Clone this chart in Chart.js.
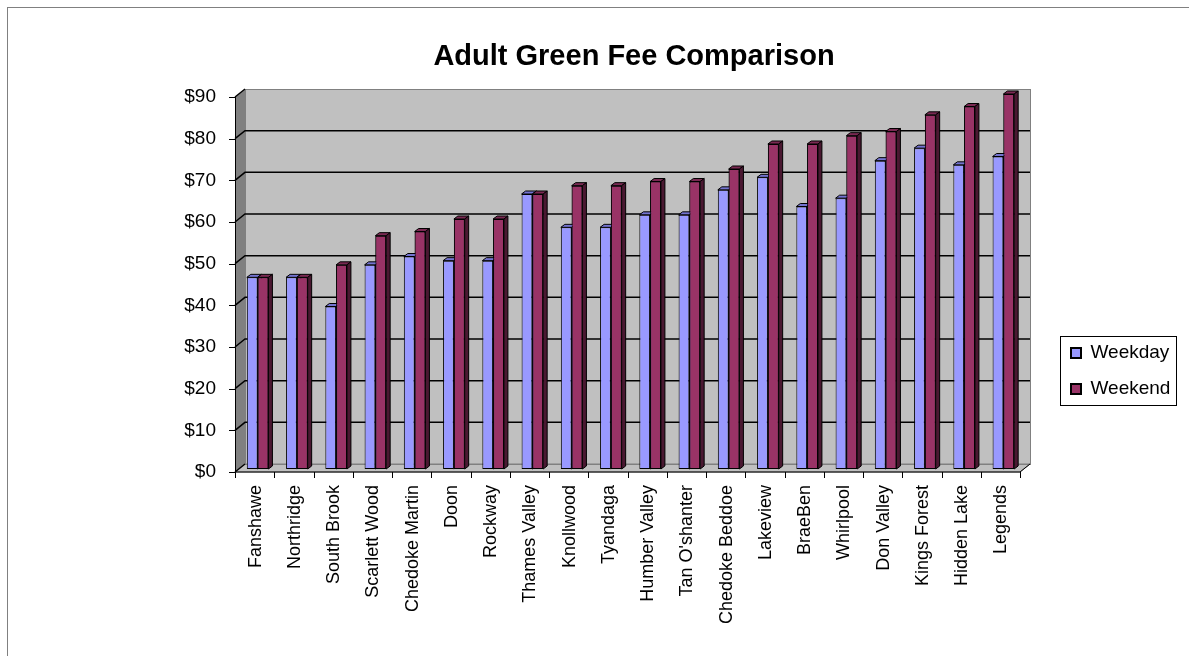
<!DOCTYPE html>
<html lang="en">
<head>
<meta charset="UTF-8">
<title>Adult Green Fee Comparison</title>
<script src="https://cdn.jsdelivr.net/npm/chart.js"></script>
<style>
  body { margin: 0; background: #fff; }
</style>
</head>
<body>
<canvas id="grafico" width="1189" height="656"></canvas>
<script>
// data
const courses = ["Fanshawe", "Northridge", "South Brook", "Scarlett Wood", "Chedoke Martin", "Doon",
  "Rockway", "Thames Valley", "Knollwood", "Tyandaga", "Humber Valley", "Tan O'shanter",
  "Chedoke Beddoe", "Lakeview", "BraeBen", "Whirlpool", "Don Valley", "Kings Forest",
  "Hidden Lake", "Legends"]
const weekday = [46, 46, 39, 49, 51, 50, 50, 66, 58, 58, 61, 61, 67, 70, 63, 65, 74, 77, 73, 75]
const weekend = [46, 46, 49, 56, 57, 60, 60, 66, 68, 68, 69, 69, 72, 78, 78, 80, 81, 85, 87, 90]
const yTicks = [0, 10, 20, 30, 40, 50, 60, 70, 80, 90]
const yTickLabels = ["$0", "$10", "$20", "$30", "$40", "$50", "$60", "$70", "$80", "$90"]

const FONT = "'Liberation Sans', Arial, sans-serif"

// fake 3D: the bars sit on a middle plane, walls behind, axes in front
const FRONT = { dx: -3, dy: 3 }
const BACK = { dx: 7, dy: -5 }
const DEPTH = { dx: 4, dy: -3 }
const faces = [
  { top: '#7373d0', side: '#4d4d85' },
  { top: '#7a2952', side: '#4a1831' }
]

function poly(ctx, pts, fill, stroke) {
  ctx.beginPath()
  ctx.moveTo(pts[0][0], pts[0][1])
  for (let i = 1; i < pts.length; i++) ctx.lineTo(pts[i][0], pts[i][1])
  ctx.closePath()
  if (fill) { ctx.fillStyle = fill; ctx.fill() }
  if (stroke) { ctx.strokeStyle = stroke; ctx.stroke() }
}

function barFaces(ctx, el, c) {
  const l = el.x - el.width / 2, r = el.x + el.width / 2
  poly(ctx, [[l, el.y], [l + DEPTH.dx, el.y + DEPTH.dy], [r + DEPTH.dx, el.y + DEPTH.dy], [r, el.y]], c.top, '#000')
  poly(ctx, [[r, el.y], [r + DEPTH.dx, el.y + DEPTH.dy], [r + DEPTH.dx, el.base + DEPTH.dy], [r, el.base]], c.side, '#000')
}

const walls = {
  id: 'walls',
  afterLayout(chart) {
    // legend box sits lower right (centre y 371), title centred over the plot
    const lg = chart.legend
    lg.left = 1054; lg.top = 321; lg.width = 130; lg.height = 100
    lg.right = lg.left + lg.width; lg.bottom = lg.top + lg.height
    const tb = chart.titleBlock
    tb.left = chart.chartArea.left
    tb.right = chart.chartArea.right + 7
    tb.width = tb.right - tb.left
  },
  beforeDraw(chart) {
    const ctx = chart.ctx
    ctx.save()
    ctx.strokeStyle = '#808080'
    ctx.lineWidth = 1
    ctx.strokeRect(7.5, 7.5, 1400, 1000)
    ctx.restore()
  },
  beforeDatasetsDraw(chart) {
    const ctx = chart.ctx, ca = chart.chartArea, ys = chart.scales.y
    const top = ys.getPixelForValue(ys.max), bot = ys.getPixelForValue(0)
    const L = ca.left, R = ca.right
    ctx.save()
    ctx.lineWidth = 1
    // back wall
    ctx.fillStyle = '#c0c0c0'
    ctx.fillRect(L + BACK.dx, top + BACK.dy, R - L, bot - top)
    // left wall
    poly(ctx, [[L + FRONT.dx, top + FRONT.dy], [L + BACK.dx, top + BACK.dy],
      [L + BACK.dx, bot + BACK.dy], [L + FRONT.dx, bot + FRONT.dy]], '#808080', null)
    // floor
    poly(ctx, [[L + FRONT.dx, bot + FRONT.dy], [L + BACK.dx, bot + BACK.dy],
      [R + BACK.dx, bot + BACK.dy], [R + FRONT.dx, bot + FRONT.dy]], '#c0c0c0', '#808080')
    ctx.strokeStyle = '#808080'
    ctx.strokeRect(L + BACK.dx + 0.5, top + BACK.dy + 0.5, R - L, bot - top)
    // gridlines
    ctx.strokeStyle = '#000'
    ctx.lineWidth = 1.5
    yTicks.forEach(v => {
      const py = ys.getPixelForValue(v)
      ctx.beginPath()
      ctx.moveTo(L + FRONT.dx, py + FRONT.dy)
      ctx.lineTo(L + BACK.dx, py + BACK.dy)
      if (v > 0 && v < ys.max) ctx.lineTo(R + BACK.dx, py + BACK.dy)
      ctx.stroke()
    })
    // front axes
    ctx.lineWidth = 1
    ctx.beginPath()
    ctx.moveTo(L + FRONT.dx + 0.5, top + FRONT.dy)
    ctx.lineTo(L + FRONT.dx + 0.5, bot + FRONT.dy)
    ctx.lineTo(R + FRONT.dx, bot + FRONT.dy)
    ctx.lineTo(R + BACK.dx, bot + BACK.dy)
    yTicks.forEach(v => {
      const py = Math.round(ys.getPixelForValue(v) + FRONT.dy) + 0.5
      ctx.moveTo(L + FRONT.dx - 6, py)
      ctx.lineTo(L + FRONT.dx, py)
    })
    const step = (R - L) / courses.length
    for (let i = 0; i <= courses.length; i++) {
      const px = Math.round(L + i * step + FRONT.dx) + 0.5
      ctx.moveTo(px, bot + FRONT.dy)
      ctx.lineTo(px, bot + FRONT.dy + 6)
    }
    ctx.stroke()
    ctx.restore()
  },
  afterDatasetsDraw(chart) {
    const ctx = chart.ctx
    const m0 = chart.getDatasetMeta(0), m1 = chart.getDatasetMeta(1)
    ctx.save()
    ctx.lineWidth = 1
    courses.forEach((c, i) => {
      barFaces(ctx, m0.data[i], faces[0])
      m1.data[i].draw(ctx)
      barFaces(ctx, m1.data[i], faces[1])
    })
    ctx.restore()
  },
  afterDraw(chart) {
    const ctx = chart.ctx, lg = chart.legend
    const cy = (lg.top + lg.bottom) / 2
    ctx.save()
    ctx.strokeStyle = '#000'
    ctx.lineWidth = 1
    ctx.strokeRect(1060.5, Math.round(cy - 35) + 0.5, 116, 69)
    ctx.restore()
  }
}

const ctx = document.getElementById('grafico')

new Chart(ctx, {
  type: 'bar',
  data: {
    labels: courses,
    datasets: [
      { label: 'Weekday', data: weekday, backgroundColor: '#9999ff', borderColor: '#000', borderWidth: 1, borderSkipped: false },
      { label: 'Weekend', data: weekend, backgroundColor: '#993366', borderColor: '#000', borderWidth: 1, borderSkipped: false }
    ]
  },
  options: {
    responsive: false,
    animation: false,
    categoryPercentage: 0.55,
    barPercentage: 1,
    layout: { padding: { left: 0, right: 166, top: 0, bottom: 0 } },
    scales: {
      x: {
        grid: { display: false, drawTicks: false },
        border: { display: false },
        ticks: {
          autoSkip: false, maxRotation: 90, minRotation: 90, padding: 16, labelOffset: -2,
          color: '#000', font: { family: FONT, size: 18 }
        },
        afterFit: s => { s.height = 187 }
      },
      y: {
        min: 0, max: 90,
        grid: { display: false, drawTicks: false },
        border: { display: false },
        afterBuildTicks: s => { s.ticks = yTicks.map(v => ({ value: v })) },
        ticks: {
          padding: 22, labelOffset: 3,
          color: '#000', font: { family: FONT, size: 19 },
          callback: (v, i) => yTickLabels[i]
        },
        afterFit: s => { s.width = 238 }
      }
    },
    plugins: {
      title: {
        display: true,
        text: 'Adult Green Fee Comparison',
        color: '#000',
        font: { family: FONT, size: 29, weight: 'bold' },
        padding: { top: 40, bottom: 19.2 }
      },
      legend: {
        position: 'chartArea',
        labels: {
          boxWidth: 10, boxHeight: 10, padding: 17,
          color: '#000', font: { family: FONT, size: 19 },
          generateLabels: chart => Chart.defaults.plugins.legend.labels.generateLabels(chart)
            .map(item => Object.assign(item, { lineWidth: 2 }))
        }
      },
      tooltip: { enabled: false }
    }
  },
  plugins: [walls]
})
</script>
</body>
</html>
